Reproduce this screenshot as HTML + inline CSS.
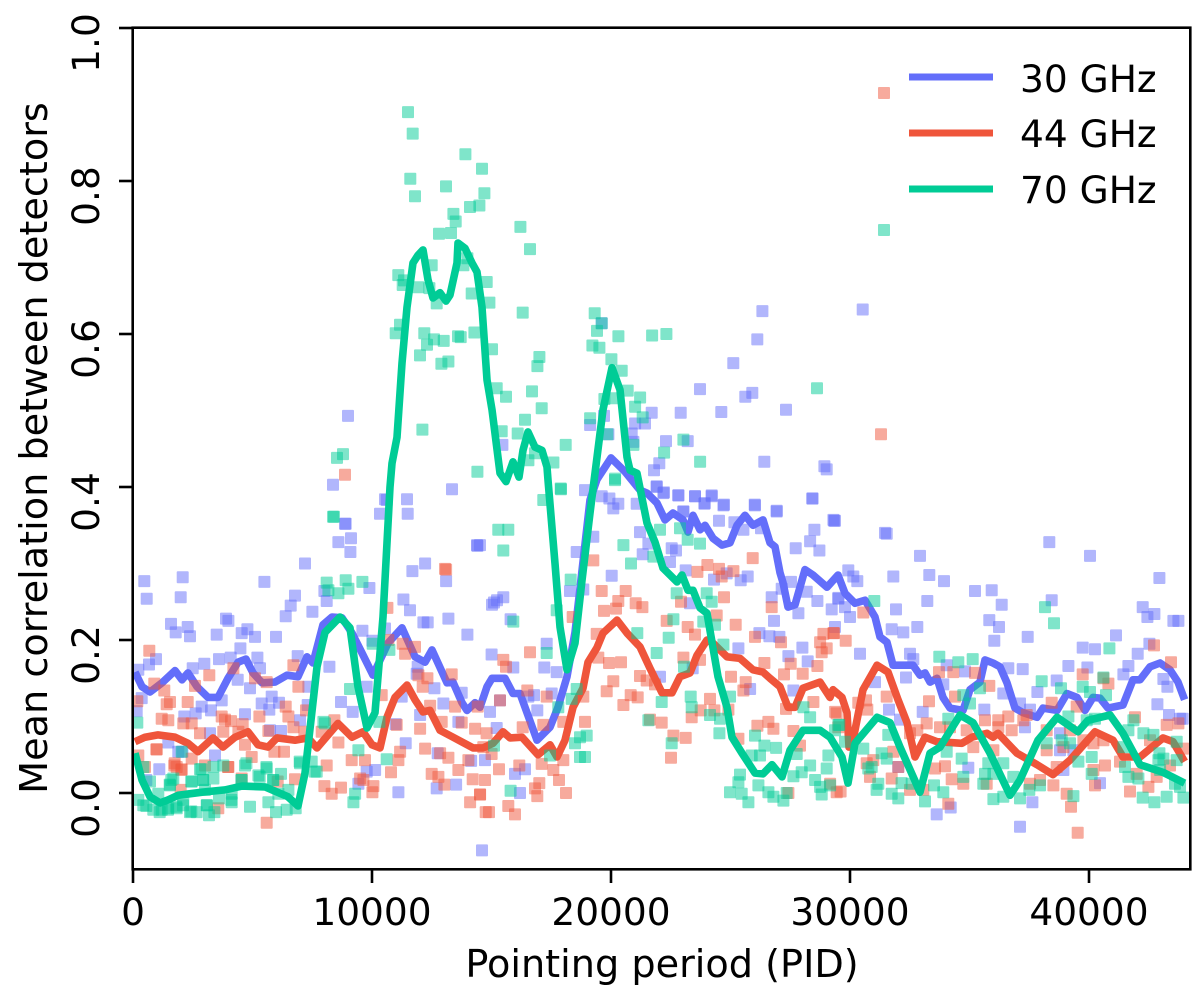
<!DOCTYPE html>
<html lang="en">
<head>
<meta charset="utf-8">
<title>Mean correlation between detectors</title>
<style>
html,body{margin:0;padding:0;background:#fff;}
svg{display:block;}
text{font-family:"DejaVu Sans",sans-serif;fill:#000;}
</style>
</head>
<body>
<svg id="chart" width="1200" height="987" viewBox="0 0 1200 987" xmlns="http://www.w3.org/2000/svg">
<defs><clipPath id="plot-clip"><rect x="133" y="28" width="1057" height="841"></rect></clipPath></defs>
<g id="marks" clip-path="url(#plot-clip)"></g>
<g id="axes"></g>
<text x="662" y="977" font-size="38.2" text-anchor="middle">Pointing period (PID)</text>
<text transform="translate(47 448) rotate(-90)" font-size="38.2" text-anchor="middle">Mean correlation between detectors</text>
<g>
<line x1="909" x2="993" y1="77" y2="77" stroke="#636efa" stroke-width="7"></line>
<text x="1020" y="92" font-size="37.5">30 GHz</text>
<line x1="909" x2="993" y1="133" y2="133" stroke="#ef553b" stroke-width="7"></line>
<text x="1020" y="147" font-size="37.5">44 GHz</text>
<line x1="909" x2="993" y1="189" y2="189" stroke="#00cc96" stroke-width="7"></line>
<text x="1020" y="203" font-size="37.5">70 GHz</text>
</g>
</svg>
<script>
const xTicks = [0, 10000, 20000, 30000, 40000];
const yTicks = [0.0, 0.2, 0.4, 0.6, 0.8, 1.0];

const scatter30 = [[474,.277],[572,.254],[2078,.282],[1995,.256],[1590,.221],[1785,.21],[2288,.217],[2385,.205],[3892,.228],[3990,.225],[3501,.207],[4548,.209],[4785,.214],[5106,.204],[5984,.204],[4492,.189],[5496,.276],[6780,.258],[6598,.245],[6389,.231],[7198,.3],[7505,.237],[8007,.264],[8105,.251],[8593,.328],[8900,.352],[9095,.315],[11495,.365],[10616,.383],[12220,.3],[11690,.29],[14410,.323],[13100,.277],[11313,.253],[11592,.239],[12150,.223],[12332,.223],[13197,.228],[13992,.207],[9890,.268],[9597,.212],[10016,.199],[10546,.215],[8216,.165],[6891,.179],[5203,.177],[4087,.177],[3599,.175],[2985,.169],[2497,.163],[962,.175],[669,.168],[223,.161],[4380,.148],[4896,.137],[5315,.163],[7338,.139],[8705,.119],[9193,.106],[5385,.117],[5803,.126],[5705,.109],[6110,.118],[6989,.095],[7310,.115],[4687,.103],[3264,.108],[2874,.113],[2622,.104],[2148,.1],[3711,.121],[363,.124],[153,.107],[3222,.078],[1479,.066],[6194,.081],[5733,.082],[1897,.054],[3432,.049],[1102,.031],[10128,.03],[9779,.028],[11104,.001],[12708,.006],[13517,.011],[12750,.052],[14145,.042],[11411,.065],[10992,.09],[12011,.102],[13615,.093],[13755,.131],[12987,.117],[12610,.137],[11871,.156],[11913,.165],[11244,.126],[9430,.012],[9779,.139],[8996,.493],[8368,.403],[8870,.352],[9121,.333],[10544,.384],[11464,.384],[10335,.365],[14393,.324],[13347,.397],[14602,-.075],[15230,.252],[15021,.246],[2065,.054],[558,.017],
[14518,.324],[15104,.249],[15495,.256],[15801,.227],[15006,.181],[15913,.164],[17210,.164],[17727,.158],[17308,.195],[16778,.128],[17517,.13],[16541,.126],[16917,.108],[15355,.121],[14937,.106],[15216,.085],[14727,.043],[15983,.025],[16401,.031],[16192,0],[18564,.315],[18285,.264],[18843,.266],[19261,.335],[19610,.388],[19931,.385],[20307,.378],[20098,.372],[18912,.396],[21075,.378],[21912,.4],[22190,.392],[22818,.389],[23516,.388],[23906,.378],[24213,.388],[24702,.376],[23028,.368],[24520,.356],[26027,.376],[26934,.368],[28426,.385],[29333,.356],[28510,.344],[28329,.329],[28719,.317],[27729,.32],[21214,.341],[21563,.326],[21326,.312],[22539,.32],[22721,.317],[22470,.302],[20028,.284],[23125,.291],[24311,.279],[24841,.287],[25427,.278],[25720,.283],[25162,.354],[25539,.344],[26278,.346],[27533,.276],[27143,.267],[26724,.256],[28189,.263],[28635,.251],[29235,.24],[29514,.254],[27840,.235],[26822,.225],[26208,.209],[26627,.205],[27045,.204],[28008,.19],[27422,.179],[28231,.172],[25329,.189],[23418,.163],[25818,.136],[27631,.134],[23307,.248],[22051,.152],
[26333,.63],[30532,.632],[26123,.593],[25119,.562],[23724,.528],[25914,.523],[25621,.518],[27323,.501],[24617,.498],[22915,.497],[21701,.497],[21422,.483],[22301,.46],[23208,.46],[26416,.433],[28927,.427],[29025,.423],[22022,.431],[21799,.422],[28425,.385],[21911,.401],[22217,.393],[22817,.389],[23515,.388],[24212,.389],[23919,.379],[24728,.377],[26012,.377],[26933,.369],[23027,.368],[29304,.357],[19612,.614],[19709,.493],[19124,.481],[21007,.483],[15455,.455],[19891,.469],[20867,.47],[20937,.459],
[29371,.356],[31534,.339],[32929,.31],[31813,.283],[33319,.285],[33933,.277],[35230,.264],[35928,.265],[36346,.246],[33235,.251],[31924,.24],[31743,.214],[32817,.217],[32231,.21],[35830,.226],[36235,.217],[36039,.199],[37434,.204],[38341,.328],[40043,.31],[42945,.281],[38439,.252],[42247,.243],[42735,.234],[42442,.23],[43530,.225],[43740,.225],[41131,.206],[39736,.19],[40252,.188],[42526,.195],[42038,.182],[39136,.166],[39931,.164],[41647,.166],[41438,.155],[43112,.149],[43279,.139],[38648,.147],[37839,.132],[42861,.116],[43349,.102],[43810,.097],[43921,.097],[29929,.291],[30139,.283],[30306,.277],[29511,.255],[29790,.243],[29999,.23],[29371,.217],[30418,.182],[32510,.182],[32650,.175],[34045,.167],[34812,.159],[36625,.163],[37225,.162],[31045,.145],[32343,.151],[33905,.142],[36416,.13],[37114,.117],[31631,.109],[33040,.106],[32092,.096],[35621,.109],[37532,.109],[37323,.086],[38788,.078],[34951,.033],[32022,.034],[40462,.013],[37630,-.012],[34212,-.019],[33626,-.028],[37114,-.044],[38927,.03],[39346,.056],[38788,.056],[31464,.34]];

const scatter44 = [[683,.186],[3194,.154],[4199,.163],[6710,.167],[13099,.292],[10644,.242],[11285,.195],[11383,.182],[11801,.191],[10686,.2],[893,.143],[1311,.134],[2595,.14],[5106,.15],[5594,.145],[6919,.139],[11941,.154],[12122,.139],[12318,.15],[13336,.155],[1548,.119],[1409,.116],[2288,.119],[181,.12],[1200,.097],[1479,.095],[2106,.091],[2455,.091],[3711,.1],[3850,.096],[4101,.094],[4589,.09],[5287,.1],[6389,.113],[6501,.1],[7240,.108],[8426,.095],[12429,.114],[13476,.113],[14424,.113],[12918,.093],[13755,.092],[14313,.084],[12011,.084],[2804,.078],[3780,.08],[4408,.08],[5664,.081],[6710,.086],[7896,.08],[8593,.066],[7170,.08],[4687,.063],[5915,.054],[6319,.054],[990,.057],[223,.049],[2455,.045],[1730,.036],[1827,.034],[4966,.047],[3013,.036],[2037,.031],[502,.034],[3990,.034],[9151,.043],[9709,.043],[8105,.036],[11174,.054],[11104,.043],[12220,.058],[12848,.052],[13197,.046],[14034,.043],[10797,.027],[6780,.018],[4548,.019],[9500,.019],[9639,.017],[12499,.025],[12778,.021],[13029,.011],[13615,.03],[14215,.018],[14522,-.002],[14103,-.012],[8007,.009],[8314,-.001],[8705,.007],[10058,.009],[10016,.001],[1995,.004],[3571,-.02],[5594,-.039],[6054,.015],[10406,.128],[11034,.089],[14759,-.025],[977,.057],[1744,.039],[2023,.03],[3976,.034],
[19261,.304],[18396,.23],[19610,.264],[20614,.264],[20307,.251],[20210,.241],[19707,.238],[21033,.248],[21312,.243],[16610,.184],[15495,.174],[15606,.165],[19401,.208],[19470,.177],[19917,.17],[20419,.171],[21214,.153],[20098,.146],[19819,.133],[21493,.147],[21842,.142],[20823,.128],[21116,.125],[20517,.115],[18843,.126],[17308,.126],[16499,.134],[15355,.121],[18912,.093],[18005,.093],[17168,.089],[16304,.086],[22121,.092],[21633,.096],[22609,.075],[23125,.072],[22511,.046],[14797,.078],[14658,.06],[15006,.051],[15313,.031],[16164,.036],[14727,.017],[14518,-.002],[16820,.006],[17001,.013],[16917,-.004],[15704,-.017],[14895,-.025],[15983,-.028],[18117,0],[17824,.017],[17587,.03],[18005,.043],[17099,.038],[22330,.225],[23209,.217],[23516,.207],[24730,.256],[24423,.232],[25218,.22],[22930,.25],[25929,.307],[23613,.289],[24032,.298],[24520,.293],[25120,.29],[24632,.283],[23028,.177],[23725,.174],[25022,.152],[26417,.17],[27240,.155],[27519,.169],[28022,.156],[28635,.166],[28747,.197],[28887,.208],[29305,.209],[29026,.189],[28817,.184],[26027,.204],[27115,.197],[26724,.243],[25636,.145],[25539,.134],[24144,.123],[24911,.109],[24325,.108],[23753,.108],[23376,.099],[25329,.071],[26124,.088],[26585,.093],[26794,.084],[27631,.081],[28468,.119],[27910,.062],[27324,.11],[29375,.106],[27422,0],[29445,.001],[29166,.012],
[29329,.209],[29818,.199],[30557,.236],[30348,.118],[30669,.121],[30724,.109],[31534,.126],[33305,.12],[34393,.126],[35830,.14],[35230,.157],[34324,.158],[33724,.158],[39736,.155],[43433,.171],[42721,.193],[40601,.15],[40810,.143],[38439,.118],[39485,.113],[29441,.104],[29511,.086],[32817,.082],[33208,.091],[33766,.086],[34184,.086],[35649,.095],[36207,.095],[36625,.1],[37393,.102],[36207,.086],[36765,.082],[37253,.095],[43252,.089],[43740,.091],[41926,.099],[39206,.082],[38230,.082],[32510,.078],[34882,.082],[35161,.06],[35998,.056],[38230,.056],[38927,.06],[40183,.065],[40601,.069],[39764,.069],[31813,.054],[30697,.039],[30976,.043],[32022,.034],[33556,.032],[33975,.035],[40671,.036],[41299,.041],[43391,.036],[43949,.058],[42554,.069],[40183,.03],[40252,.01],[42833,.021],[41996,.025],[34742,.012],[34254,.018],[31743,.019],[30836,.021],[29608,.002],[32510,.004],[33068,.004],[35719,.012],[37532,.012],[37951,.017],[38509,.01],[39067,-.001],[42484,.008],[41717,.002],[39248,-.018],[34114,-.014],[39527,-.052],[38648,.034],[31421,.915],[31296,.469],[8870,.416],[13054,.293]];

const scatter70 = [[11507,.89],[11702,.862],[13906,.835],[14604,.816],[11604,.803],[13097,.793],[11800,.78],[14701,.784],[14102,.766],[14492,.768],[13404,.757],[13502,.747],[12804,.731],[13306,.732],[16208,.74],[16612,.711],[12497,.69],[13990,.699],[13823,.69],[11102,.677],[11339,.67],[11284,.664],[11939,.661],[12400,.66],[14799,.668],[14171,.653],[14911,.641],[12707,.64],[16306,.628],[19319,.627],[19612,.614],[19416,.604],[20309,.597],[21718,.598],[22318,.6],[11172,.612],[10991,.601],[12190,.601],[14283,.602],[13599,.597],[13711,.596],[12595,.593],[13000,.591],[12302,.586],[19221,.585],[19514,.582],[12009,.572],[15022,.58],[17003,.57],[16919,.558],[13195,.564],[12902,.561],[20016,.567],[20449,.552],[20700,.526],[15218,.529],[15608,.518],[16696,.525],[19723,.515],[20100,.516],[21216,.517],[17101,.503],[21007,.505],[21328,.491],[12107,.475],[16403,.488],[19124,.49],[15427,.473],[16096,.47],[18105,.455],[23030,.462],[22220,.445],[23727,.433],[14408,.42],[17589,.432],[16543,.435],[20937,.455],[19849,.469],[20170,.411],[17896,.398],[16822,.444],[31421,.736],[28618,.529],[8535,.438],[8786,.443],[8368,.361],
[8411,.361],[8105,.275],[8900,.278],[9597,.276],[9012,.267],[8593,.261],[8175,.265],[10030,.195],[10727,.187],[9081,.136],[10309,.093],[7965,.093],[9430,.056],[10616,.044],[9291,-.001],[9221,-.012],[181,.092],[432,.034],[711,.015],[223,-.009],[432,-.016],[851,-.022],[1200,-.022],[1479,-.02],[1060,-.001],[1548,.01],[1688,.019],[2037,.054],[2804,.031],[2455,.015],[2943,.017],[3362,.019],[3362,.034],[3780,.036],[1827,-.02],[2385,-.025],[2664,-.025],[3083,-.016],[3180,-.029],[3404,-.025],[4129,-.012],[4896,-.018],[5664,-.012],[5984,-.025],[6431,-.022],[6807,-.02],[4687,.036],[5245,.023],[5594,.032],[5873,.017],[6194,.025],[6989,.039],[7687,.028],[7477,.041],[8035,.091],[4548,.017],[4129,-.001],[2106,-.009],[6082,-.001],[6501,.004],[3013,.004],[558,-.017],[1116,-.025],[1465,-.022],[1813,-.018],[2093,-.016],[2441,-.024],[3097,-.016],[3599,-.007],[4115,-.009],[2441,.015],[2930,.017],[2860,.031],[4743,.039],[5580,.034],[5301,.021],[5859,.017],[6975,.041],[7603,.028],[1604,.017],[1535,.011],[4534,.017],
[17908,.397],[17169,.383],[15285,.344],[15704,.344],[15495,.317],[15913,.224],[17308,.183],[20517,.324],[20837,.3],[18312,.279],[17727,.239],[20168,.409],[21772,.309],[22051,.344],[22888,.346],[23209,.331],[23725,.326],[22749,.261],[24004,.261],[24213,.25],[22609,.227],[24353,.22],[23864,.224],[21102,.209],[22414,.203],[21912,.183],[24702,.194],[23055,.165],[18564,.136],[18354,.123],[23335,.126],[22121,.119],[23376,.112],[24144,.102],[21563,.095],[24562,.097],[17796,.112],[24981,.126],[18982,.075],[18703,.073],[18494,.065],[22539,.065],[24534,.078],[18703,.047],[18912,.047],[15104,.062],[17448,.049],[15801,.003],[26027,.075],[26417,.062],[26906,.059],[25887,.049],[26236,.049],[25399,.024],[25329,.014],[24981,.001],[25469,-.001],[25748,-.012],[26166,.01],[26585,.001],[26794,-.005],[27213,-.01],[27352,0],[27631,.022],[27980,.027],[28329,.036],[28538,.017],[29026,.032],[28747,.008],[28817,-.002],[27771,.051],[29096,.049],[29514,.089],[29166,.01],[28050,.112],[28329,.099],
[31017,.251],[33738,.178],[34533,.171],[35133,.175],[38160,.243],[38536,.222],[40852,.189],[38020,.146],[38829,.137],[40601,.151],[39736,.139],[40713,.128],[40043,.132],[35440,.137],[35021,.117],[34742,.128],[34114,.097],[41857,.095],[41647,.082],[42275,.078],[42694,.076],[43670,.067],[42945,.052],[29371,.082],[29553,.089],[29790,.067],[30557,.058],[31603,.076],[31325,.052],[31534,.045],[30766,.032],[30906,.034],[31185,.012],[31115,.004],[32022,-.007],[31743,-.001],[32161,.013],[32580,.012],[33514,.01],[33905,.001],[33138,-.011],[34045,.054],[34672,.045],[34742,.021],[35579,.012],[35649,.025],[35788,.039],[36416,.039],[36001,.025],[36001,-.008],[36416,-.005],[37114,-.007],[36834,.021],[37504,.004],[37951,.01],[38230,.065],[38857,.069],[39206,.065],[39555,.041],[39346,-.004],[40113,.047],[40113,.025],[39136,.1],[40252,.097],[39903,.095],[41438,.06],[41508,.034],[41647,.021],[42066,.019],[43112,.045],[42903,.043],[43809,.008],[43600,.012],[42247,-.006],[42735,-.012],[43252,-.005],[43949,-.006],[42973,.03],[43670,.043]];

const line30 = [[84,.158],[377,.139],[711,.132],[1213,.144],[1757,.16],[2050,.148],[2301,.157],[2678,.139],[3138,.125],[3556,.125],[3975,.15],[4393,.171],[4728,.175],[5021,.157],[5397,.144],[5941,.145],[6443,.154],[6904,.152],[7280,.178],[7531,.17],[7950,.22],[8326,.23],[8745,.229],[9163,.209],[9581,.183],[10042,.154],[10669,.196],[11255,.216],[11799,.178],[12217,.171],[12510,.187],[13138,.144],[13389,.145],[13765,.118],[13975,.108],[14309,.118],[14518,.112],[14811,.139],[15021,.15],[15565,.15],[15899,.13],[16192,.13],[16903,.069],[17447,.086],[17782,.112],[18158,.152],[18494,.21],[19121,.383],[19414,.41],[20000,.438],[20585,.42],[21213,.396],[21506,.392],[21924,.379],[22259,.357],[22594,.366],[23012,.357],[23221,.341],[23430,.363],[23723,.344],[23932,.35],[24267,.333],[24644,.324],[24978,.327],[25271,.35],[25606,.363],[25941,.35],[26359,.357],[26652,.327],[26862,.322],[27071,.288],[27196,.275],[27405,.243],[27698,.246],[28116,.292],[28451,.285],[29037,.269],[29497,.285],[29790,.261],[30208,.248],[30627,.252],[31045,.23],[31254,.204],[31547,.197],[31798,.167],[32635,.167],[32928,.154],[33137,.157],[33346,.145],[33639,.15],[33890,.125],[34183,.111],[34727,.108],[35020,.135],[35438,.145],[35647,.174],[35982,.17],[36275,.165],[36568,.144],[36903,.111],[37238,.105],[37823,.099],[38074,.111],[38660,.108],[39079,.13],[39497,.125],[39832,.108],[40166,.125],[40459,.124],[40794,.111],[41421,.115],[41840,.148],[42133,.148],[42551,.165],[42970,.17],[43388,.161],[43723,.145],[44000,.122]];

const line44 = [[84,.067],[502,.073],[1046,.076],[1757,.073],[2301,.065],[2720,.054],[3347,.072],[3766,.06],[4268,.073],[4812,.08],[5230,.063],[5648,.06],[6025,.072],[6778,.069],[7322,.072],[7699,.059],[8577,.091],[9163,.073],[9623,.08],[10000,.063],[10334,.059],[10627,.099],[10962,.125],[11464,.141],[11799,.122],[12134,.106],[12427,.108],[12845,.082],[13389,.073],[14226,.059],[14644,.059],[15062,.065],[15481,.08],[15774,.072],[16276,.073],[16945,.05],[17447,.063],[17740,.047],[18075,.069],[18410,.112],[18828,.137],[19037,.171],[19414,.19],[19665,.209],[20251,.226],[20669,.209],[21213,.191],[21631,.163],[22133,.131],[22552,.131],[22887,.152],[23305,.157],[23598,.18],[24016,.2],[24267,.196],[24853,.178],[25397,.176],[25941,.161],[26359,.158],[26652,.15],[27071,.139],[27405,.112],[27698,.112],[28033,.137],[28744,.145],[29162,.125],[29288,.135],[29665,.125],[29874,.105],[29958,.06],[30125,.069],[30543,.135],[31129,.167],[31589,.158],[32008,.122],[32384,.092],[32719,.047],[33137,.073],[33639,.067],[34685,.065],[35103,.073],[35731,.078],[35982,.073],[36192,.078],[36987,.052],[37823,.037],[38493,.024],[39204,.043],[40250,.08],[41003,.069],[41421,.047],[42133,.047],[43095,.072],[43514,.067],[44000,.041]];

const line70 = [[84,.052],[377,.017],[711,-.005],[1130,-.013],[1464,-.009],[1883,-.003],[2887,.001],[3849,.004],[4561,.009],[5523,.008],[6485,-.005],[6904,-.017],[7196,.026],[7699,.165],[8033,.21],[8661,.23],[9079,.216],[9414,.139],[9791,.085],[10125,.105],[10460,.23],[10753,.4],[10837,.431],[11046,.465],[11255,.562],[11464,.635],[11715,.693],[11924,.703],[12134,.71],[12343,.671],[12552,.647],[12845,.654],[13096,.643],[13263,.651],[13556,.693],[13598,.719],[13891,.712],[14184,.693],[14393,.681],[14602,.635],[14811,.54],[15021,.501],[15355,.418],[15606,.407],[15899,.433],[16150,.413],[16318,.448],[16527,.472],[16820,.452],[17113,.448],[17322,.426],[17364,.409],[17657,.3],[17866,.217],[18158,.161],[18494,.196],[18787,.278],[19121,.366],[19665,.501],[20042,.556],[20376,.527],[20669,.439],[20794,.422],[21087,.418],[21506,.353],[21841,.328],[22175,.294],[22761,.276],[22970,.285],[23221,.265],[23430,.265],[23723,.242],[24016,.235],[24476,.152],[24853,.112],[25062,.073],[25481,.052],[26025,.026],[26359,.025],[26736,.037],[27154,.021],[27489,.056],[28033,.082],[28744,.082],[29162,.073],[29665,.047],[29916,.013],[30208,.065],[31129,.099],[31673,.092],[32092,.06],[32928,.001],[33346,.052],[33764,.06],[34602,.102],[35146,.092],[35857,.052],[36694,-.003],[37112,.017],[37865,.069],[38660,.099],[39539,.08],[39957,.095],[40878,.102],[41421,.078],[42133,.037],[43095,.027],[44000,.013]];

const NS = 'http://www.w3.org/2000/svg';
function sx(pid) { return 133 + pid * 0.0239; }
function sy(corr) { return 793 - corr * 765; }

const marks = document.getElementById('marks');
const axes = document.getElementById('axes');

function drawSeries(points, line, color, key) {
  points.forEach(function (p) {
    const r = document.createElementNS(NS, 'rect');
    r.setAttribute('x', (sx(p[0]) - 6).toFixed(1));
    r.setAttribute('y', (sy(p[1]) - 6).toFixed(1));
    r.setAttribute('width', '12');
    r.setAttribute('height', '12');
    r.setAttribute('rx', '1');
    r.setAttribute('fill', color);
    r.setAttribute('fill-opacity', '0.5');
    
    
    marks.appendChild(r);
  });
  const path = document.createElementNS(NS, 'path');
  path.setAttribute('d', line.map(function (p, i) {
    return (i ? 'L' : 'M') + sx(p[0]).toFixed(1) + ' ' + sy(p[1]).toFixed(1);
  }).join(''));
  path.setAttribute('fill', 'none');
  path.setAttribute('stroke', color);
  path.setAttribute('stroke-width', '7.6');
  path.setAttribute('stroke-linejoin', 'round');
  
  
  marks.appendChild(path);
}

drawSeries(scatter30, line30, '#636efa', '30-ghz');
drawSeries(scatter44, line44, '#ef553b', '44-ghz');
drawSeries(scatter70, line70, '#00cc96', '70-ghz');

const frame = document.createElementNS(NS, 'rect');
frame.setAttribute('x', '132.7');
frame.setAttribute('y', '27.7');
frame.setAttribute('width', '1057.6');
frame.setAttribute('height', '841.6');
frame.setAttribute('fill', 'none');
frame.setAttribute('stroke', '#000');
frame.setAttribute('stroke-width', '2.6');


axes.appendChild(frame);

xTicks.forEach(function (t) {
  const tick = document.createElementNS(NS, 'line');
  tick.setAttribute('x1', sx(t));
  tick.setAttribute('x2', sx(t));
  tick.setAttribute('y1', '869');
  tick.setAttribute('y2', '883');
  tick.setAttribute('stroke', '#000');
  tick.setAttribute('stroke-width', '2.6');
  
  
  axes.appendChild(tick);
  const label = document.createElementNS(NS, 'text');
  label.setAttribute('x', sx(t));
  label.setAttribute('y', '925');
  label.setAttribute('font-size', '37.5');
  label.setAttribute('text-anchor', 'middle');
  
  
  label.textContent = String(t);
  axes.appendChild(label);
});

yTicks.forEach(function (t) {
  const tick = document.createElementNS(NS, 'line');
  tick.setAttribute('x1', '119');
  tick.setAttribute('x2', '133');
  tick.setAttribute('y1', sy(t));
  tick.setAttribute('y2', sy(t));
  tick.setAttribute('stroke', '#000');
  tick.setAttribute('stroke-width', '2.6');
  
  
  axes.appendChild(tick);
  const label = document.createElementNS(NS, 'text');
  label.setAttribute('transform', 'translate(99 ' + (sy(t) + 15) + ') rotate(-90)');
  label.setAttribute('font-size', '37.5');
  label.setAttribute('text-anchor', 'middle');
  
  
  label.textContent = t.toFixed(1);
  axes.appendChild(label);
});
</script>
</body>
</html>
